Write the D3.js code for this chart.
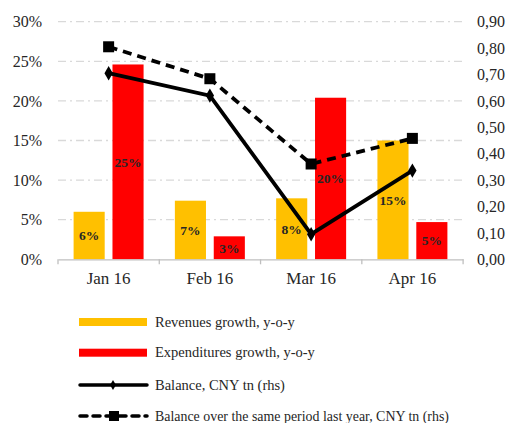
<!DOCTYPE html>
<html><head><meta charset="utf-8">
<script src="https://cdn.jsdelivr.net/npm/d3@7"></script>
<style>
body{margin:0;background:#fff;}
text{font-family:"Liberation Serif",serif;fill:#262626;}
</style></head>
<body><svg id="c" width="510" height="423"></svg>
<script>
const categories = ["Jan 16","Feb 16","Mar 16","Apr 16"];
const revenues = [6.0, 7.4, 7.7, 15.0];
const expenditures = [24.6, 2.9, 20.4, 4.7];
const revLabels = ["6%","7%","8%","15%"];
const expLabels = ["25%","3%","20%","5%"];
const balance = [0.705, 0.62, 0.095, 0.336];
const balanceLastYear = [0.805, 0.684, 0.361, 0.458];
const leftTicks = [0,5,10,15,20,25,30];
const rightTicks = [0,0.1,0.2,0.3,0.4,0.5,0.6,0.7,0.8,0.9];
const seriesNames = ["Revenues growth, y-o-y","Expenditures growth, y-o-y","Balance, CNY tn (rhs)","Balance over the same period last year, CNY tn (rhs)"];

const svg = d3.select("#c");
const L=58, R=463, T=21.7, B=259.3;
const yL = d3.scaleLinear().domain([0,30]).range([B,T]);
const yR = d3.scaleLinear().domain([0,0.9]).range([B,T]);
const x0 = d3.scaleBand().domain(categories).range([L,R]).paddingInner(0.309).paddingOuter(0.154);
const x1 = d3.scaleBand().domain(["rev","exp"]).range([0,x0.bandwidth()]).paddingInner(0.2);
const xc = d3.scalePoint().domain(categories).range([L,R]).padding(0.5);

// gridlines
svg.append("g").selectAll("line").data(leftTicks.filter(d=>d>0)).join("line")
  .attr("x1",L).attr("x2",R).attr("y1",d=>yL(d)).attr("y2",d=>yL(d))
  .attr("stroke","#d9d9d9").attr("stroke-width",1.3).attr("stroke-dasharray","8,4,2,4");

// bars
const g = svg.append("g");
categories.forEach((c,i)=>{
  [["rev",revenues[i],"#FFC000"],["exp",expenditures[i],"#FF0000"]].forEach(([k,v,col])=>{
    const x = x0(c)+x1(k);
    g.append("rect").attr("x",x).attr("y",yL(v)).attr("width",x1.bandwidth()).attr("height",B-yL(v)).attr("fill",col);
  });
});

// x axis
const xAxis = d3.axisBottom(x0).tickSize(0).tickPadding(13);
const ax = svg.append("g").attr("transform",`translate(0,${B})`).call(xAxis);
ax.select(".domain").attr("stroke","#bfbfbf").attr("stroke-width",1.3);
ax.selectAll("text").attr("font-size","17px").style("font-family","Liberation Serif").attr("fill","#262626");
const bounds = d3.range(categories.length+1).map(i=>L+i*x0.step());
svg.append("g").selectAll("line").data(bounds).join("line")
  .attr("x1",d=>d).attr("x2",d=>d).attr("y1",B).attr("y2",B+5).attr("stroke","#bfbfbf").attr("stroke-width",1.3);

// left axis
const la = svg.append("g").attr("transform",`translate(42,0)`).call(d3.axisLeft(yL).tickValues(leftTicks).tickFormat(d=>d+"%").tickSize(0).tickPadding(0));
la.select(".domain").remove();
la.selectAll("text").attr("font-size","16px").style("font-family","Liberation Serif").attr("fill","#262626");
// right axis
const ra = svg.append("g").attr("transform",`translate(477,0)`).call(d3.axisRight(yR).tickValues(rightTicks).tickFormat(d=>d3.format(".2f")(d).replace(".",",")).tickSize(0).tickPadding(0));
ra.select(".domain").remove();
ra.selectAll("text").attr("font-size","16px").style("font-family","Liberation Serif").attr("fill","#262626");

// lines
const lineB = d3.line().x((d,i)=>xc(categories[i])).y(d=>yR(d));
svg.append("path").datum(balanceLastYear).attr("d",lineB).attr("fill","none").attr("stroke","#000").attr("stroke-width",3.8).attr("stroke-dasharray","9,6");
svg.append("path").datum(balance).attr("d",lineB).attr("fill","none").attr("stroke","#000").attr("stroke-width",3.8);
svg.append("g").selectAll("rect").data(balanceLastYear).join("rect")
  .attr("x",(d,i)=>xc(categories[i])-5.5).attr("y",d=>yR(d)-5.5).attr("width",11).attr("height",11).attr("fill","#000");
svg.append("g").selectAll("path").data(balance).join("path")
  .attr("d",d3.symbol(d3.symbolDiamond,60)).attr("transform",(d,i)=>`translate(${xc(categories[i])},${yR(d)})`).attr("fill","#000");

// data labels
categories.forEach((c,i)=>{
  [["rev",revenues[i],revLabels[i]],["exp",expenditures[i],expLabels[i]]].forEach(([k,v,lab])=>{
    const x = x0(c)+x1(k)+x1.bandwidth()/2;
    svg.append("text").attr("x",x).attr("y",(yL(v)+B)/2).attr("dy","0.35em").attr("text-anchor","middle")
      .attr("font-size","13.5px").attr("font-weight","bold").attr("fill","#1a1a1a").text(lab);
  });
});

// legend
const lg = svg.append("g");
const rows=[322,352.7,385,416];
lg.append("rect").attr("x",79).attr("y",rows[0]-4).attr("width",68).attr("height",8).attr("fill","#FFC000");
lg.append("rect").attr("x",79).attr("y",rows[1]-4).attr("width",68).attr("height",8).attr("fill","#FF0000");
lg.append("line").attr("x1",80).attr("x2",147).attr("y1",rows[2]).attr("y2",rows[2]).attr("stroke","#000").attr("stroke-width",3.5).attr("stroke-linecap","round");
lg.append("path").attr("d",d3.symbol(d3.symbolDiamond,30)).attr("transform",`translate(113,${rows[2]})`).attr("fill","#000");
lg.append("line").attr("x1",80).attr("x2",147).attr("y1",rows[3]).attr("y2",rows[3]).attr("stroke","#000").attr("stroke-width",3.5).attr("stroke-dasharray","7,6").attr("stroke-linecap","round");
lg.append("rect").attr("x",109).attr("y",rows[3]-5).attr("width",10).attr("height",10).attr("fill","#000");
seriesNames.forEach((n,i)=>{
  lg.append("text").attr("x",155).attr("y",rows[i]).attr("dy","0.33em").attr("font-size","14.5px").attr("textLength", i===3 ? 294 : null).attr("lengthAdjust","spacingAndGlyphs").text(n);
});
</script></body></html>
